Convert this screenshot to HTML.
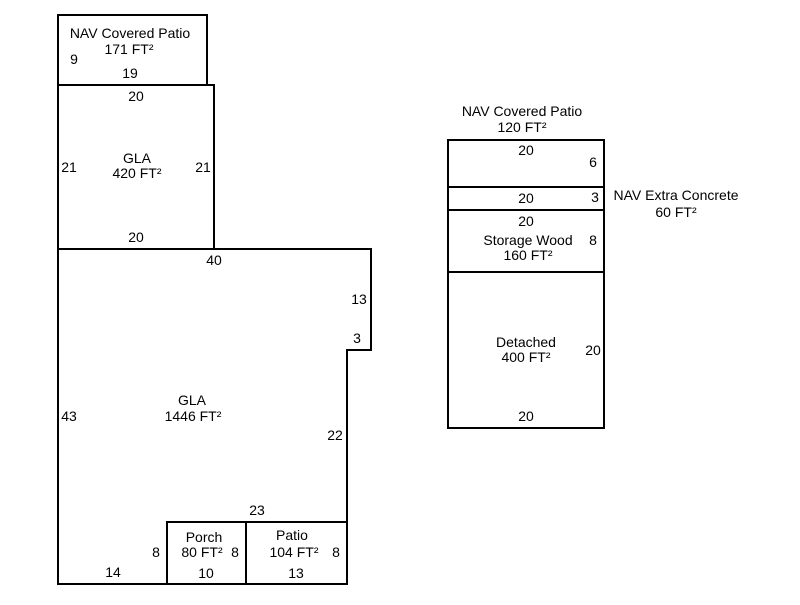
<!DOCTYPE html>
<html><head><style>
body{margin:0;background:#fff;width:800px;height:600px;overflow:hidden}
svg text{font-family:"Liberation Sans",Arial,sans-serif;font-size:14px;fill:#000;text-anchor:middle}
</style></head><body>
<svg width="800" height="600" xmlns="http://www.w3.org/2000/svg">
<g fill="none" stroke="#000" stroke-width="2">
<rect x="58" y="15" width="149" height="70"/>
<rect x="58" y="85" width="156" height="164"/>
<polygon points="58,249 371,249 371,350 347,350 347,584 58,584"/>
<rect x="167" y="522" width="79" height="62"/>
<rect x="246" y="522" width="101" height="62"/>
<rect x="448" y="140" width="156" height="288"/>
<line x1="448" y1="187" x2="604" y2="187"/>
<line x1="448" y1="210" x2="604" y2="210"/>
<line x1="448" y1="272" x2="604" y2="272"/>
</g>
<text x="130" y="38">NAV Covered Patio</text>
<text x="129" y="54">171 FT²</text>
<text x="74" y="64">9</text>
<text x="130" y="78">19</text>
<text x="136" y="101">20</text>
<text x="137" y="163">GLA</text>
<text x="137" y="178">420 FT²</text>
<text x="69" y="172">21</text>
<text x="203" y="172">21</text>
<text x="136" y="242">20</text>
<text x="214" y="265">40</text>
<text x="359" y="304">13</text>
<text x="357" y="343">3</text>
<text x="192" y="405">GLA</text>
<text x="193" y="421">1446 FT²</text>
<text x="69" y="421">43</text>
<text x="335" y="440">22</text>
<text x="257" y="515">23</text>
<text x="156" y="557">8</text>
<text x="113" y="577">14</text>
<text x="204" y="542">Porch</text>
<text x="202" y="557">80 FT²</text>
<text x="235" y="557">8</text>
<text x="206" y="578">10</text>
<text x="292" y="540">Patio</text>
<text x="294" y="557">104 FT²</text>
<text x="336" y="557">8</text>
<text x="296" y="578">13</text>
<text x="522" y="116">NAV Covered Patio</text>
<text x="522" y="132">120 FT²</text>
<text x="526" y="155">20</text>
<text x="593" y="167">6</text>
<text x="526" y="203">20</text>
<text x="595" y="202">3</text>
<text x="676" y="200">NAV Extra Concrete</text>
<text x="676" y="217">60 FT²</text>
<text x="526" y="226">20</text>
<text x="528" y="245">Storage Wood</text>
<text x="528" y="260">160 FT²</text>
<text x="593" y="245">8</text>
<text x="526" y="347">Detached</text>
<text x="526" y="362">400 FT²</text>
<text x="593" y="355">20</text>
<text x="526" y="421">20</text>
</svg>
</body></html>
